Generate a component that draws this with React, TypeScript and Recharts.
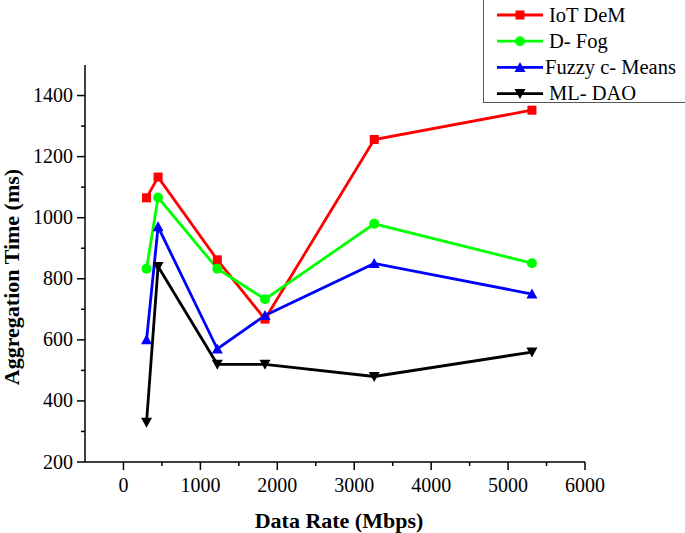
import React from 'react';
import { LineChart, Line, XAxis, YAxis } from 'recharts';

const dataRates = [300, 450, 1220, 1840, 3260, 5310];
const iotDeM = [1065, 1133, 862, 668, 1256, 1352];
const dFog = [833, 1066, 833, 733, 980, 851];
const fuzzyCMeans = [600, 970, 570, 680, 850, 750];
const mlDao = [330, 840, 520, 520, 480, 560];

const seriesNames = ['IoT DeM', 'D- Fog', 'Fuzzy c- Means', 'ML- DAO'];
const seriesKeys = ['iot', 'dfog', 'fuzzy', 'ml'];
const seriesColors = ['#ff0000', '#00ff00', '#0000ff', '#000000'];
const seriesShapes = ['square', 'circle', 'up', 'down'];

const xTicks = [0, 500, 1000, 1500, 2000, 2500, 3000, 3500, 4000, 4500, 5000, 5500, 6000];
const yTicks = [200, 300, 400, 500, 600, 700, 800, 900, 1000, 1100, 1200, 1300, 1400];

const data = dataRates.map((x, i) => ({
  x,
  iot: iotDeM[i],
  dfog: dFog[i],
  fuzzy: fuzzyCMeans[i],
  ml: mlDao[i],
}));

const FONT = "'Liberation Serif', 'Times New Roman', serif";

function Marker({ shape, cx, cy, color }: { shape: string; cx: number; cy: number; color: string }) {
  if (shape === 'square') return <rect x={cx - 4.5} y={cy - 4.5} width={9} height={9} fill={color} />;
  if (shape === 'circle') return <circle cx={cx} cy={cy} r={5} fill={color} />;
  if (shape === 'up')
    return <polygon points={`${cx - 5.5},${cy + 4.5} ${cx + 5.5},${cy + 4.5} ${cx},${cy - 5.5}`} fill={color} />;
  return <polygon points={`${cx - 5.5},${cy - 4.5} ${cx + 5.5},${cy - 4.5} ${cx},${cy + 5.5}`} fill={color} />;
}

const XTick = (props: any) => {
  const { x, y, payload } = props;
  const v = payload.value;
  const major = v % 1000 === 0;
  return (
    <g>
      <line x1={x} x2={x} y1={y} y2={y + (major ? 8 : 4)} stroke="#000" strokeWidth={1.5} />
      {major && (
        <text x={x} y={y + 30} textAnchor="middle" fontFamily={FONT} fontSize={20} fill="#000">
          {v}
        </text>
      )}
    </g>
  );
};

const YTick = (props: any) => {
  const { x, y, payload } = props;
  const v = payload.value;
  const major = v % 200 === 0;
  return (
    <g>
      <line x1={x - (major ? 8 : 4)} x2={x} y1={y} y2={y} stroke="#000" strokeWidth={1.5} />
      {major && (
        <text x={x - 12} y={y + 6.5} textAnchor="end" fontFamily={FONT} fontSize={20} fill="#000">
          {v}
        </text>
      )}
    </g>
  );
};

export default function App() {
  return (
    <div style={{ position: 'absolute', left: 0, top: 0, width: 685, height: 533, background: '#fff' }}>
      <LineChart width={685} height={533} data={data} margin={{ top: 65, right: 100, bottom: 0, left: 0 }}>
        <XAxis
          dataKey="x"
          type="number"
          domain={[-500, 6000]}
          ticks={xTicks}
          interval={0}
          tickSize={0}
          tickMargin={0}
          height={71}
          axisLine={{ stroke: '#000', strokeWidth: 1.5 }}
          tick={<XTick />}
          allowDataOverflow
        />
        <YAxis
          type="number"
          domain={[200, 1500]}
          ticks={yTicks}
          interval={0}
          tickSize={0}
          tickMargin={0}
          width={85}
          axisLine={{ stroke: '#000', strokeWidth: 1.5 }}
          tick={<YTick />}
          allowDataOverflow
        />
        {seriesKeys.map((k, i) => (
          <Line
            key={k}
            dataKey={k}
            stroke={seriesColors[i]}
            strokeWidth={2.8}
            isAnimationActive={false}
            dot={(p: any) => (
              <Marker key={`${k}-${p.index}`} shape={seriesShapes[i]} cx={p.cx} cy={p.cy} color={seriesColors[i]} />
            )}
            activeDot={false}
          />
        ))}
        <text x={339} y={528} textAnchor="middle" fontFamily={FONT} fontSize={22} fontWeight="bold" fill="#000">
          Data Rate (Mbps)
        </text>
        <text
          x={19}
          y={277}
          transform="rotate(-90 19 277)"
          textAnchor="middle"
          fontFamily={FONT}
          fontSize={22}
          fontWeight="bold"
          fill="#000"
        >
          Aggregation Time (ms)
        </text>
      </LineChart>
      <div
        style={{
          position: 'absolute',
          left: 483,
          top: -2,
          width: 220,
          height: 105,
          borderLeft: '1px solid #555',
          borderBottom: '1px solid #555',
          boxSizing: 'border-box',
        }}
      />
      <svg style={{ position: 'absolute', left: 0, top: 0 }} width={685} height={110}>
        {seriesNames.map((name, i) => {
          const cy = 15 + i * 26.2;
          return (
            <g key={name}>
              <line x1={497} x2={543} y1={cy} y2={cy} stroke={seriesColors[i]} strokeWidth={2.8} />
              <Marker shape={seriesShapes[i]} cx={520} cy={cy} color={seriesColors[i]} />
              <text x={i === 2 ? 545 : 549} y={cy + 6.5} fontFamily={FONT} fontSize={20.5} fill="#000">
                {name}
              </text>
            </g>
          );
        })}
      </svg>
    </div>
  );
}
